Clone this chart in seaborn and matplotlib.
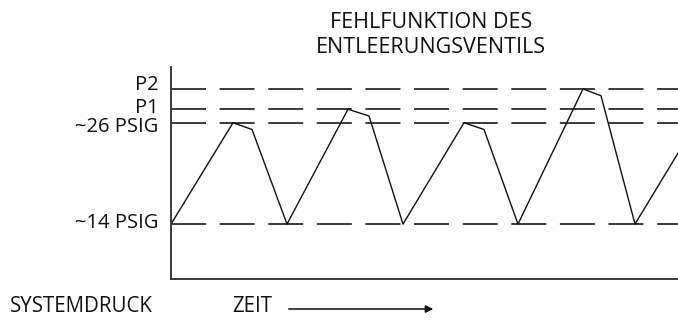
import numpy as np
import pandas as pd
import matplotlib
matplotlib.use('Agg')
import matplotlib.pyplot as plt
import matplotlib.transforms as mtransforms
import seaborn as sns

# pressure trace (time in arbitrary units, pressure in PSIG)
zeit = [0.0, 6.2, 8.1, 11.6, 17.7, 19.8, 23.2, 29.3, 31.3, 34.7, 41.2, 43.0, 46.4, 50.7]
druck = [14.0, 26.0, 25.2, 14.0, 27.6, 26.8, 14.0, 26.0, 25.2, 14.0, 30.0, 29.2, 14.0, 22.4]

# reference levels
level_values = [30.0, 27.6, 26.0, 14.0]
level_labels = ['P2', 'P1', '~26 PSIG', '~14 PSIG']

title = 'FEHLFUNKTION DES\nENTLEERUNGSVENTILS'

sns.set_style('white')
plt.rcParams['font.family'] = ['Open Sans', 'DejaVu Sans']

fig = plt.figure(figsize=(6.78, 3.27), dpi=100)
ax = fig.add_axes([171 / 678, 48 / 327, 507 / 678, 212 / 327])

df = pd.DataFrame({'zeit': zeit, 'druck': druck})
sns.lineplot(data=df, x='zeit', y='druck', color='#111111', linewidth=1.0, ax=ax)

# small vertical nudges (points) so the tight labels sit like the original
nudges = [3, 1, -3, 0.5]
for val, lab, dy in zip(level_values, level_labels, nudges):
    ax.axhline(val, color='#3a3a3a', linewidth=1.4, dashes=(18, 7), zorder=1)
    off = mtransforms.offset_copy(ax.get_yaxis_transform(), fig=fig, x=-9, y=dy, units='points')
    ax.text(0, val, lab, transform=off, ha='right', va='center',
            fontsize=14.5, color='#111111')

ax.set_xlim(0, 50.7)
ax.set_ylim(7.5, 32.6)
ax.set_xticks([])
ax.set_yticks([])
ax.set_xlabel('')
ax.set_ylabel('')
for s in ['top', 'right']:
    ax.spines[s].set_visible(False)
for s in ['left', 'bottom']:
    ax.spines[s].set_color('#3a3a3a')
    ax.spines[s].set_linewidth(1.4)

fig.text(431 / 678, 1 - 35 / 327, title, ha='center', va='center',
         fontsize=15.5, linespacing=1.3, color='#111111')
fig.text(10 / 678, 1 - 307 / 327, 'SYSTEMDRUCK', ha='left', va='center',
         fontsize=14.8, color='#111111')
fig.text(232 / 678, 1 - 307 / 327, 'ZEIT', ha='left', va='center',
         fontsize=14.8, color='#111111')
fig.add_artist(matplotlib.patches.FancyArrowPatch(
    (286 / 678, 1 - 309 / 327), (436 / 678, 1 - 309 / 327),
    transform=fig.transFigure, arrowstyle='-|>', mutation_scale=11,
    color='#111111', linewidth=1.1))

fig.savefig('out.png', dpi=100)
